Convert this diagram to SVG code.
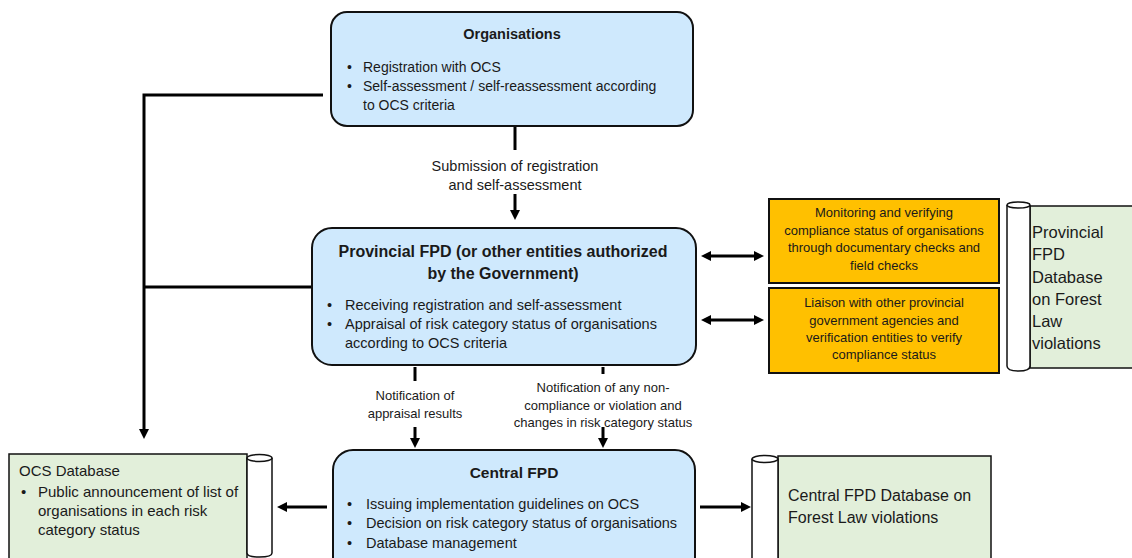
<svg xmlns="http://www.w3.org/2000/svg" width="1132" height="558" viewBox="0 0 1132 558">
<style>
.box{fill:#CFE9FD;stroke:#111;stroke-width:2}
.org{fill:#FFC000;stroke:#111;stroke-width:2}
.db{fill:#E2EFDA;stroke:#111;stroke-width:1.5}
.cyl{fill:#fff;stroke:#111;stroke-width:1.5}
.t{font-family:"Liberation Sans",Arial,sans-serif;fill:#1a1a1a}
.b{font-weight:bold;text-anchor:middle}
.c{text-anchor:middle}
.ln{fill:none;stroke:#000;stroke-width:3}
</style>
<defs>
<marker id="ah" viewBox="0 0 10 10" markerWidth="10" markerHeight="10" refX="1" refY="5" markerUnits="userSpaceOnUse" orient="auto-start-reverse">
<path d="M0,0 L10,5 L0,10 z" fill="#000"/>
</marker>
</defs>

<g id="connectors">
<polyline class="ln" points="323,95 144,95 144,430" marker-end="url(#ah)"/>
<line class="ln" x1="326" y1="287" x2="144" y2="287"/>
<line class="ln" x1="515" y1="127" x2="515" y2="150"/>
<line class="ln" x1="515" y1="194" x2="515" y2="211" marker-end="url(#ah)"/>
<line class="ln" x1="710" y1="256" x2="755" y2="256" marker-start="url(#ah)" marker-end="url(#ah)"/>
<line class="ln" x1="710" y1="320" x2="755" y2="320" marker-start="url(#ah)" marker-end="url(#ah)"/>
<line class="ln" x1="415" y1="367" x2="415" y2="381"/>
<line class="ln" x1="415" y1="427" x2="415" y2="439" marker-end="url(#ah)"/>
<line class="ln" x1="603" y1="367" x2="603" y2="374"/>
<line class="ln" x1="603" y1="427" x2="603" y2="439" marker-end="url(#ah)"/>
<line class="ln" x1="327" y1="507" x2="286" y2="507" marker-end="url(#ah)"/>
<line class="ln" x1="700" y1="507" x2="742" y2="507" marker-end="url(#ah)"/>
<text class="t c" font-size="14.5" x="515" y="171">Submission of registration</text>
<text class="t c" font-size="14.5" x="515" y="190">and self-assessment</text>
<text class="t c" font-size="13" x="415" y="400">Notification of</text>
<text class="t c" font-size="13" x="415" y="418">appraisal results</text>
<text class="t c" font-size="13" x="603" y="392">Notification of any non-</text>
<text class="t c" font-size="13" x="603" y="410">compliance or violation and</text>
<text class="t c" font-size="13" x="603" y="427">changes in risk category status</text>
</g>

<g id="organisations">
<rect class="box" x="331" y="12" width="362" height="114" rx="16"/>
<text class="t b" font-size="14.5" x="512" y="39">Organisations</text>
<text class="t" font-size="14" x="347" y="72">•</text>
<text class="t" font-size="14" x="363" y="72">Registration with OCS</text>
<text class="t" font-size="14" x="347" y="91">•</text>
<text class="t" font-size="14" x="363" y="91">Self-assessment / self-reassessment according</text>
<text class="t" font-size="14" x="363" y="110">to OCS criteria</text>
</g>

<g id="provincial">
<rect class="box" x="312" y="228" width="384" height="137" rx="20"/>
<text class="t b" font-size="16" x="503" y="257">Provincial FPD (or other entities authorized</text>
<text class="t b" font-size="16" x="503" y="279">by the Government)</text>
<text class="t" font-size="14.5" x="327" y="310">•</text>
<text class="t" font-size="14.5" x="345" y="310">Receiving registration and self-assessment</text>
<text class="t" font-size="14.5" x="327" y="329">•</text>
<text class="t" font-size="14.5" x="345" y="329">Appraisal of risk category status of organisations</text>
<text class="t" font-size="14.5" x="345" y="348">according to OCS criteria</text>
</g>

<g id="monitoring">
<rect class="org" x="769" y="199" width="230" height="84"/>
<text class="t c" font-size="13" x="884" y="217">Monitoring and verifying</text>
<text class="t c" font-size="13" x="884" y="235">compliance status of organisations</text>
<text class="t c" font-size="13" x="884" y="252">through documentary checks and</text>
<text class="t c" font-size="13" x="884" y="270">field checks</text>
</g>

<g id="liaison">
<rect class="org" x="769" y="288" width="230" height="85"/>
<text class="t c" font-size="13" x="884" y="307">Liaison with other provincial</text>
<text class="t c" font-size="13" x="884" y="325">government agencies and</text>
<text class="t c" font-size="13" x="884" y="342">verification entities to verify</text>
<text class="t c" font-size="13" x="884" y="359">compliance status</text>
</g>

<g id="provincial-db">
<rect class="db" x="1030" y="206" width="110" height="162"/>
<path class="cyl" d="M1007,205 L1007,366 Q1007,371 1018.5,371 Q1030,371 1030,366 L1030,205"/>
<ellipse class="cyl" cx="1018.5" cy="205" rx="11.5" ry="3"/>
<text class="t" font-size="16.5" x="1032" y="238">Provincial</text>
<text class="t" font-size="16.5" x="1032" y="260">FPD</text>
<text class="t" font-size="16.5" x="1032" y="283">Database</text>
<text class="t" font-size="16.5" x="1032" y="305">on Forest</text>
<text class="t" font-size="16.5" x="1032" y="327">Law</text>
<text class="t" font-size="16.5" x="1032" y="349">violations</text>
</g>

<g id="ocs-db">
<rect class="db" x="9" y="454" width="238" height="110"/>
<path class="cyl" d="M247,458 L247,553 Q247,557 259.5,557 Q272,557 272,553 L272,458"/>
<ellipse class="cyl" cx="259.5" cy="458" rx="12.5" ry="3.5"/>
<text class="t" font-size="15" x="19" y="476">OCS Database</text>
<text class="t" font-size="15" x="21" y="497">•</text>
<text class="t" font-size="15" x="38" y="497">Public announcement of list of</text>
<text class="t" font-size="15" x="38" y="516">organisations in each risk</text>
<text class="t" font-size="15" x="38" y="535">category status</text>
</g>

<g id="central">
<rect class="box" x="333" y="450" width="362" height="130" rx="20"/>
<text class="t b" font-size="15.5" x="514" y="478">Central FPD</text>
<text class="t" font-size="14.5" x="347" y="509">•</text>
<text class="t" font-size="14.5" x="366" y="509">Issuing implementation guidelines on OCS</text>
<text class="t" font-size="14.5" x="347" y="528">•</text>
<text class="t" font-size="14.5" x="366" y="528">Decision on risk category status of organisations</text>
<text class="t" font-size="14.5" x="347" y="548">•</text>
<text class="t" font-size="14.5" x="366" y="548">Database management</text>
</g>

<g id="central-db">
<rect class="db" x="778" y="456" width="213" height="110"/>
<path class="cyl" d="M752,459 L752,570 L778,570 L778,459"/>
<ellipse class="cyl" cx="765" cy="459" rx="13" ry="3.5"/>
<text class="t" font-size="16" x="788" y="501">Central FPD Database on</text>
<text class="t" font-size="16" x="788" y="523">Forest Law violations</text>
</g>
</svg>
